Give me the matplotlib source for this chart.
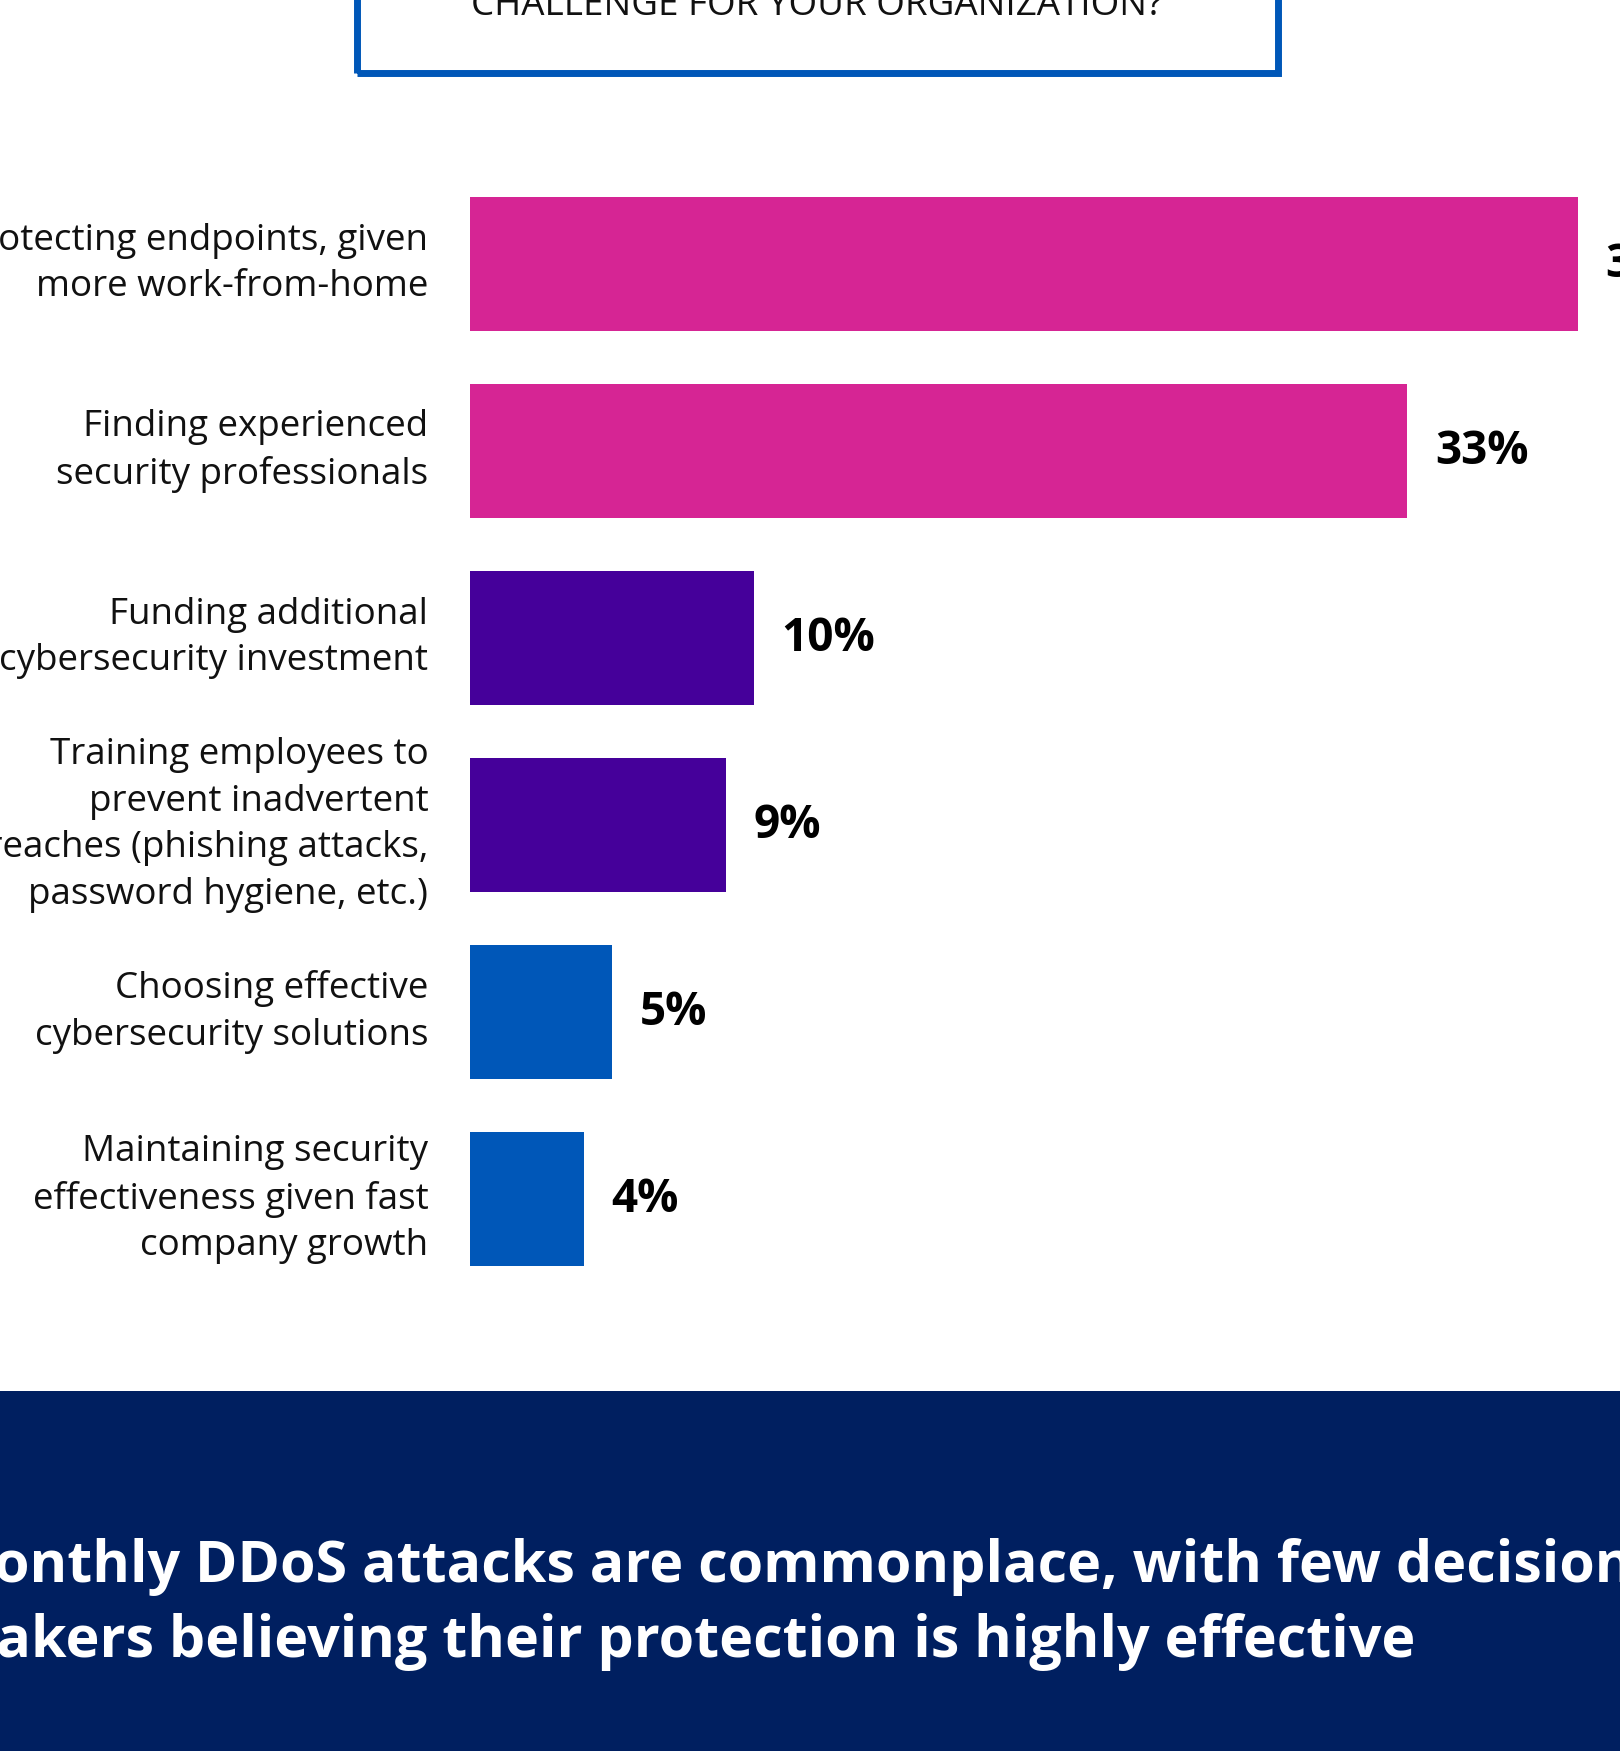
import matplotlib.pyplot as plt
from matplotlib.patches import Rectangle

W, H = 1620, 1751

# survey answers, top to bottom
categories = [
    "Protecting endpoints, given\nmore work-from-home",
    "Finding experienced\nsecurity professionals",
    "Funding additional\ncybersecurity investment",
    "Training employees to\nprevent inadvertent\nbreaches (phishing attacks,\npassword hygiene, etc.)",
    "Choosing effective\ncybersecurity solutions",
    "Maintaining security\neffectiveness given fast\ncompany growth",
]
values = [39, 33, 10, 9, 5, 4]
bar_colors = ["#D62594", "#D62594", "#45009A", "#45009A", "#0057B8", "#0057B8"]

question = "CHALLENGE FOR YOUR ORGANIZATION?"
footer = ["Monthly DDoS attacks are commonplace, with few decision",
          "makers believing their protection is highly effective"]

FONT = "Open Sans"
NAVY = "#001F60"


def fx(px):
    return px / W


def fy(py):
    return 1 - py / H


fig = plt.figure(figsize=(W / 100, H / 100), dpi=100)
fig.patch.set_facecolor("white")

# bar axes: 0% sits at x=470px, 28.4px per percent
left, top, bottom = 470, 170, 1300
ax = fig.add_axes([fx(left), fy(bottom), 1 - fx(left), (bottom - top) / H])
ax.set_xlim(0, (W - left) / 28.4)
step = 187
ax.set_ylim((bottom - 264) / step, -(264 - top) / step)

ax.barh(range(len(values)), values, height=0.715, color=bar_colors)
for i, v in enumerate(values):
    ax.annotate(f"{v}%", xy=(v, i), xytext=(20, 0), textcoords="offset points",
                va="center", ha="left", fontsize=33, fontweight="bold",
                family=FONT, color="black", annotation_clip=False)

ax.set_yticks(range(len(categories)))
ax.set_yticklabels(categories, fontsize=26.5, family=FONT, linespacing=1.39,
                   color="#111111", va="center")
ax.tick_params(axis="y", length=0, pad=30)
ax.set_xticks([])
for s in ax.spines.values():
    s.set_visible(False)

# question box (top edge runs off the canvas)
fig.patches.append(Rectangle((fx(356.5), fy(73.5)), fx(1277.5) - fx(356.5), fy(-300) - fy(73.5),
                             transform=fig.transFigure, fill=False,
                             edgecolor="#0057B8", linewidth=5.0))
fig.text(fx(817), fy(15), question, ha="center", va="baseline",
         fontsize=26.5, family=FONT, color="#111111")

# footer band
fig.patches.append(Rectangle((0, 0), 1, fy(1391), transform=fig.transFigure,
                             facecolor=NAVY, edgecolor="none", zorder=0))
for k, line in enumerate(footer):
    fig.text(fx(-60), fy(1582 + 75 * k), line, ha="left", va="baseline",
             fontsize=41.3, fontweight="bold", family=FONT, color="white")

fig.savefig("out.png", dpi=100)
